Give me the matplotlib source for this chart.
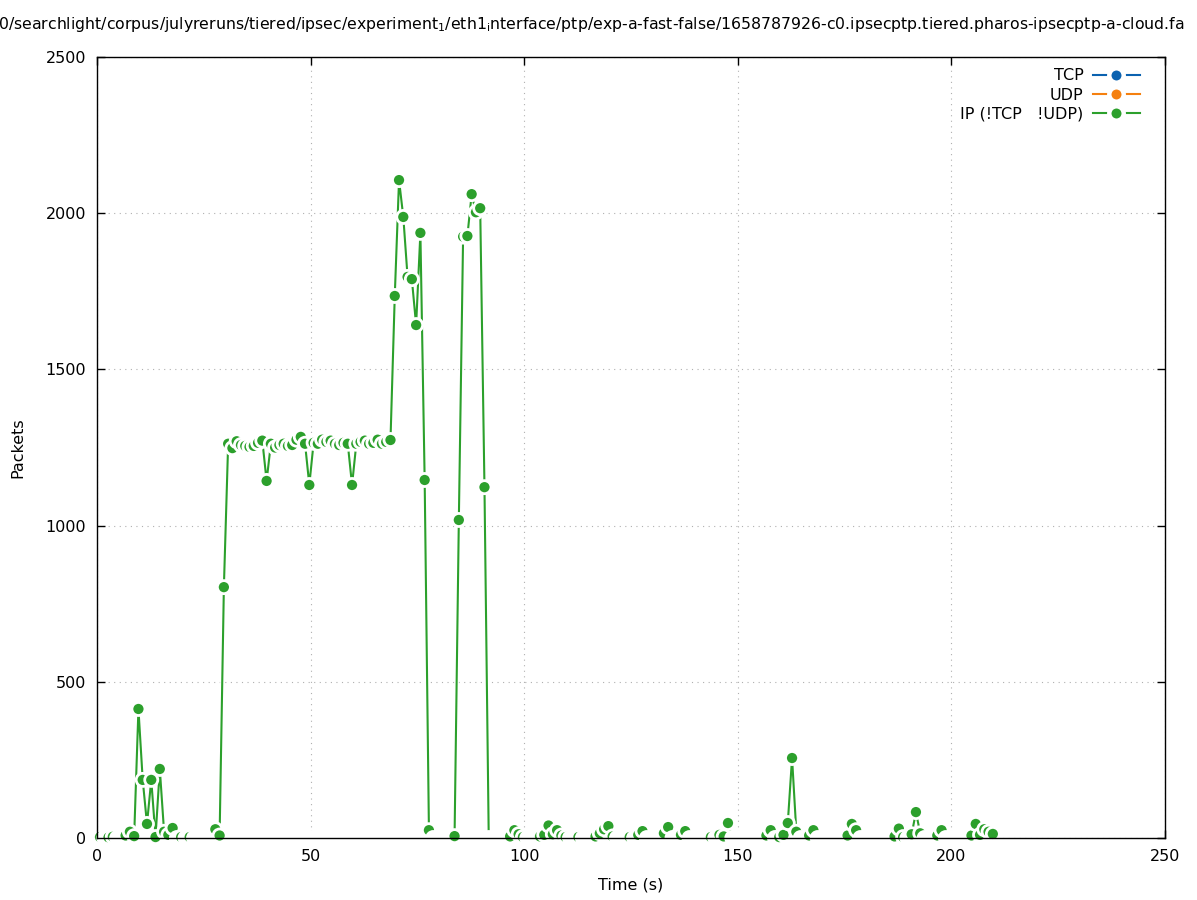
import numpy as np
import matplotlib
matplotlib.use("Agg")
import matplotlib.pyplot as plt
from matplotlib.lines import Line2D
import matplotlib.patheffects as pe

# ---------------- data ----------------
times = np.arange(210) + 0.7   # one sample per second

ip_other = [
    3, 0, 2, 4, 0, 0, 8, 20, 6, 413,            # 0-9
    186, 45, 186, 3, 221, 20, 10, 32, 0, 3,      # 10-19
    0, 3, 0, 0, 0, 0, 0, 28, 8, 803,             # 20-29
    1262, 1248, 1270, 1258, 1255, 1252, 1255, 1265, 1272, 1143,   # 30-39
    1262, 1250, 1258, 1262, 1255, 1258, 1275, 1284, 1262, 1130,   # 40-49
    1265, 1262, 1275, 1268, 1272, 1262, 1258, 1265, 1262, 1130,   # 50-59
    1262, 1268, 1272, 1262, 1265, 1275, 1262, 1268, 1274, 1735,   # 60-69
    2106, 1988, 1796, 1789, 1642, 1937, 1146, 25, 0, 0,           # 70-79
    0, 0, 0, 6, 1018, 1925, 1927, 2061, 2003, 2016,               # 80-89
    1123, 0, 0, 0, 0, 0, 5, 25, 12, 3,           # 90-99
    0, 0, 0, 5, 10, 40, 12, 25, 8, 3,            # 100-109
    0, 0, 3, 0, 0, 0, 5, 15, 28, 38,             # 110-119
    5, 0, 0, 0, 3, 0, 10, 22, 0, 0,              # 120-129
    0, 0, 15, 35, 0, 0, 10, 22, 0, 0,            # 130-139
    0, 0, 0, 3, 0, 10, 5, 48, 0, 0,              # 140-149
    0, 0, 0, 0, 0, 0, 8, 25, 0, 3,               # 150-159
    10, 48, 256, 20, 0, 0, 8, 25, 0, 0,          # 160-169
    0, 0, 0, 0, 0, 8, 45, 25, 0, 0,              # 170-179
    0, 0, 0, 0, 0, 0, 5, 30, 3, 0,               # 180-189
    12, 83, 15, 0, 0, 0, 8, 25, 0, 0,            # 190-199
    0, 0, 0, 0, 8, 45, 10, 28, 20, 13,           # 200-209
]
tcp = [0] * 210
udp = [0] * 210

series_names = ["TCP", "UDP", "IP (!TCP   !UDP)"]
series_colors = ["#0b62b0", "#f5800f", "#2ca02c"]

title_text = ("0/searchlight/corpus/julyreruns/tiered/ipsec/experiment$_1$/eth1$_{\\rm i}$nterface"
              "/ptp/exp-a-fast-false/1658787926-c0.ipsecptp.tiered.pharos-ipsecptp-a-cloud.fa")

x_ticks = [0, 50, 100, 150, 200, 250]
y_ticks = [0, 500, 1000, 1500, 2000, 2500]

# ---------------- figure ----------------
W, H = 1197, 900
fig = plt.figure(figsize=(W / 100, H / 100), dpi=100)
ax = fig.add_axes([97 / W, 1 - 838 / H, (1165 - 97) / W, (838 - 57) / H])

ax.set_xlim(0, 250)
ax.set_ylim(0, 2500)
ax.set_xticks(x_ticks)
ax.set_yticks(y_ticks)
ax.tick_params(direction="in", length=6, width=1, top=True, right=True,
               labelsize=11.5, pad=8, colors="black")
for s in ax.spines.values():
    s.set_linewidth(1.0)
    s.set_zorder(5)
ax.set_axisbelow(True)
ax.grid(True, linestyle=(0, (1, 4)), color="#b0b0b0", linewidth=0.8)

ax.set_xlabel("Time (s)", fontsize=11.5, labelpad=10)
ax.set_ylabel("Packets", fontsize=11.5, labelpad=14)

MS = 9.4      # marker diameter (pt)
MEW = 2.0     # white ring width (pt)

def draw_series(values, color, z):
    vals = np.asarray(values, dtype=float)
    ax.plot(times, vals, color=color, linewidth=1.5, zorder=z, clip_on=False,
            solid_joinstyle="miter",
            path_effects=[pe.Stroke(linewidth=3.0, foreground="white"), pe.Normal()])
    faces = [color if v > 0 else "white" for v in vals]
    ax.scatter(times, vals, s=MS ** 2, c=faces, edgecolors="white",
               linewidths=MEW, zorder=z + 0.5, clip_on=False)

draw_series(tcp, series_colors[0], 1)
draw_series(udp, series_colors[1], 2)
draw_series(ip_other, series_colors[2], 3)

handles = [Line2D([0], [0], color=c, linewidth=1.5, marker="o", markersize=MS + 1,
                  markerfacecolor=c, markeredgecolor="white", markeredgewidth=3.2)
           for c in series_colors]
ax.legend(handles, series_names, loc="upper right", frameon=False, markerfirst=False,
          fontsize=11.5, handlelength=2.9, handletextpad=0.6, labelspacing=0.26,
          borderaxespad=0.0, bbox_to_anchor=(1 - 19 / 1068, 1 - 5 / 781))

fig.text(-2 / W, 1 - 24 / H, title_text, ha="left", va="center", fontsize=11.35)

fig.savefig("out.png", dpi=100)
